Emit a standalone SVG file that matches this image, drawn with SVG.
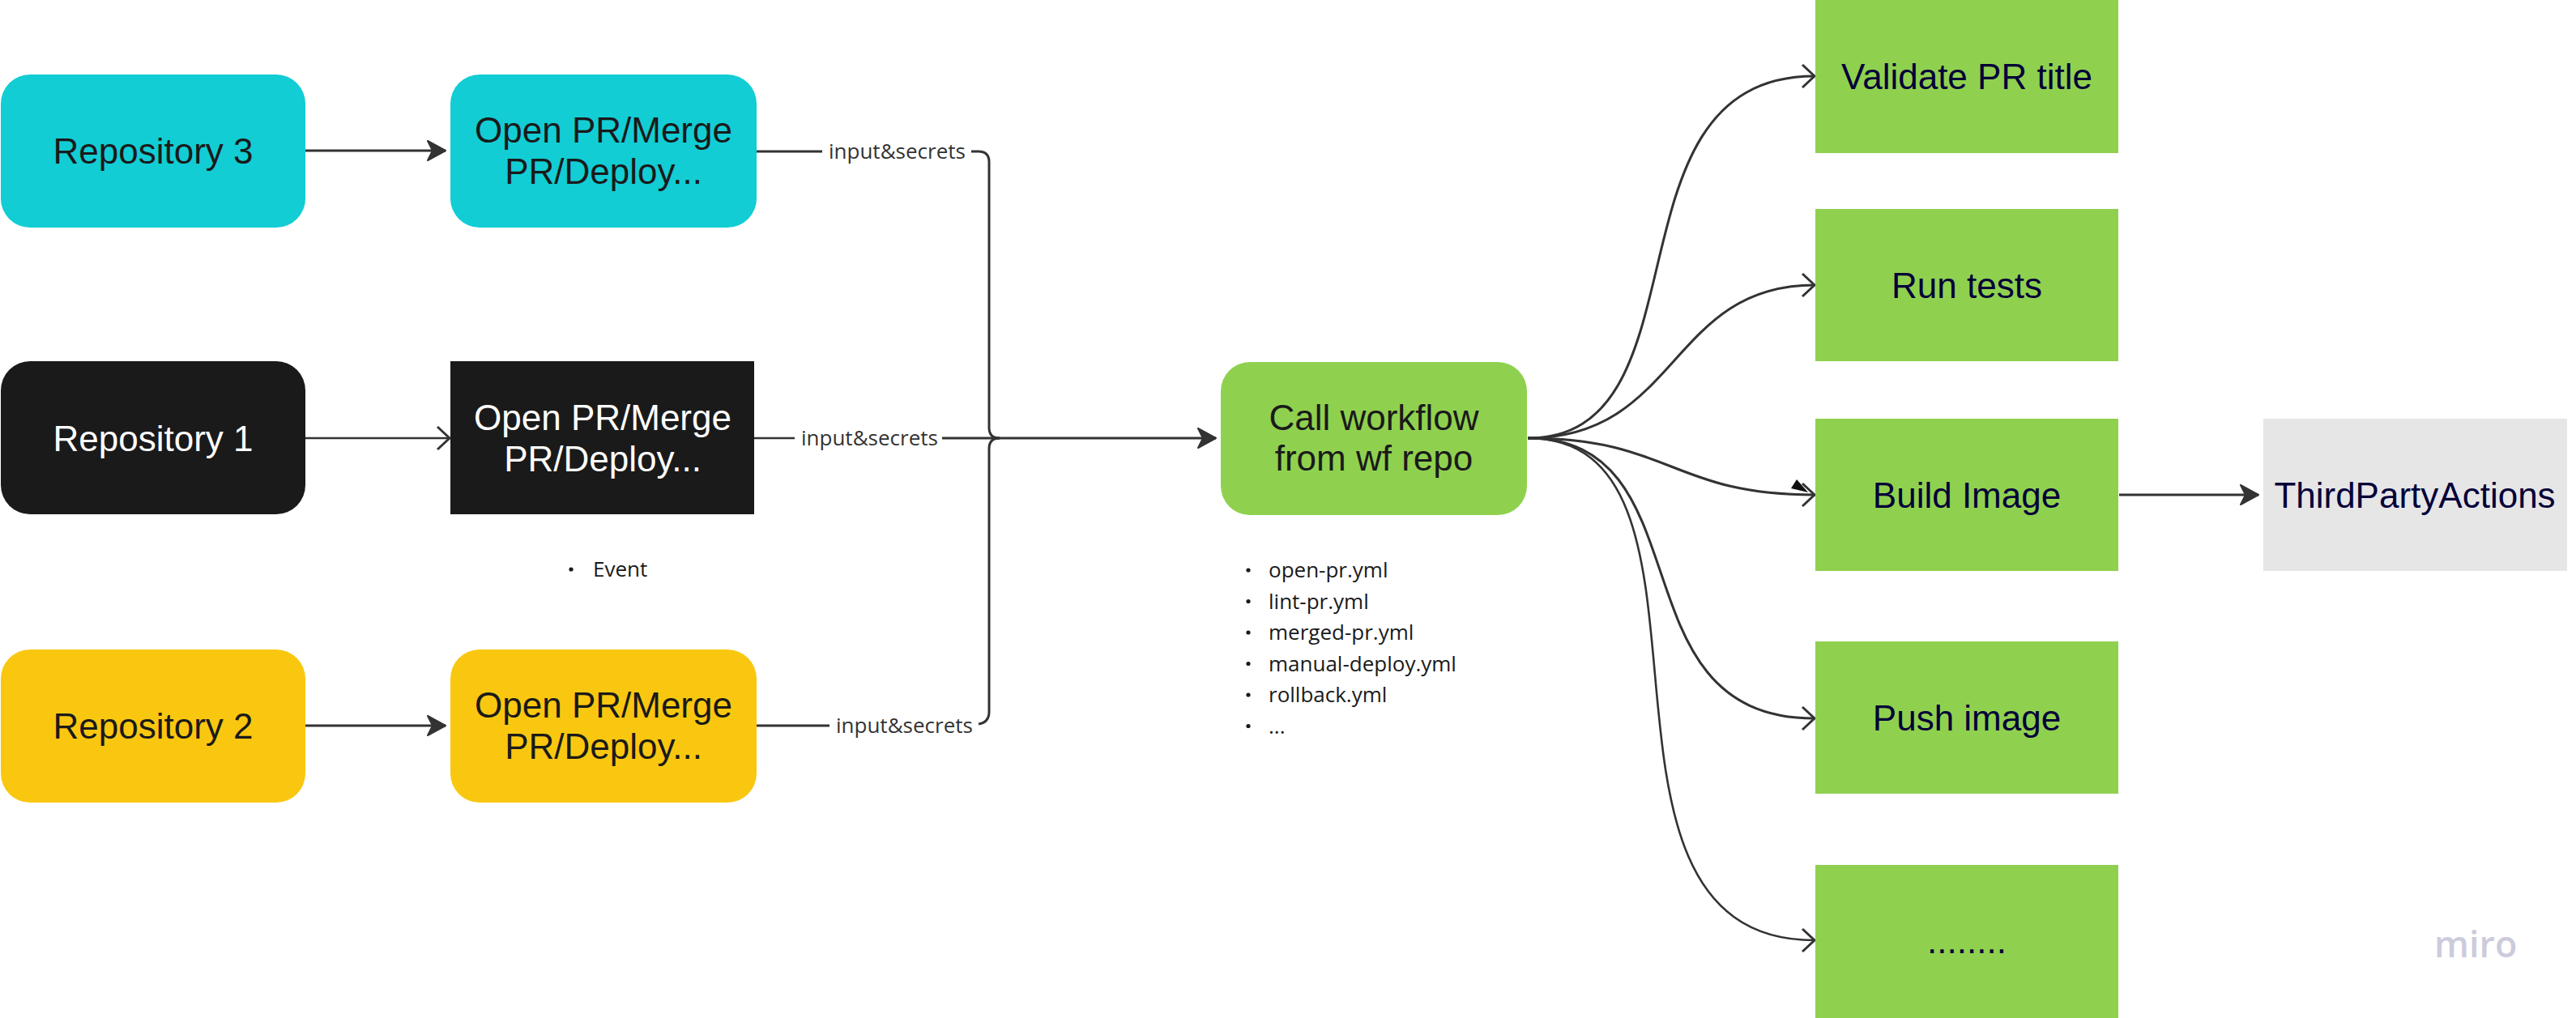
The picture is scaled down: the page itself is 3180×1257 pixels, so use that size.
<svg xmlns="http://www.w3.org/2000/svg" width="3180" height="1257" viewBox="0 0 3180 1257">
<style>
.t{font-family:"Liberation Sans",Arial,sans-serif;font-size:44px;text-anchor:middle}
.dk{fill:#1a1a1a}
.wh{fill:#ffffff}
.nv{fill:#050038}
.lbl{font-family:"Open Sans","DejaVu Sans",sans-serif;font-size:26px;fill:#333333}
.li{font-family:"Open Sans","DejaVu Sans",sans-serif;font-size:26px;fill:#1a1a1a}
.c{fill:none;stroke:#333333;stroke-linecap:butt}
.cyan{fill:#12cdd4}
.blk{fill:#1a1a1a}
.yel{fill:#fac710}
.grn{fill:#8fd14f}
.gry{fill:#e6e6e6}
</style>
<defs>
<marker id="af" viewBox="0 0 26 28" refX="24" refY="14" markerWidth="26" markerHeight="28" orient="auto" markerUnits="userSpaceOnUse">
<path d="M2,2 L24,14 L2,26 L8,14 Z" fill="#333333" stroke="#333333" stroke-width="2" stroke-linejoin="round"/>
</marker>
<marker id="ao" viewBox="0 0 20 32" refX="17" refY="16" markerWidth="20" markerHeight="32" orient="auto" markerUnits="userSpaceOnUse">
<path d="M2,2 L17,16 L2,30" fill="none" stroke="#333333" stroke-width="3"/>
</marker>
</defs>
<rect width="3180" height="1257" fill="#ffffff"/>

<g id="connectors">
<path class="c" stroke-width="3.2" d="M377,186 L550,186" marker-end="url(#af)"/>
<path class="c" stroke-width="2.5" d="M377,541 L555,541" marker-end="url(#ao)"/>
<path class="c" stroke-width="3.2" d="M377,896 L550,896" marker-end="url(#af)"/>
<path class="c" stroke-width="3.2" d="M934,187 L1015,187"/>
<path class="c" stroke-width="3" d="M1199,187 L1208,187 Q1221,187 1221,200 L1221,528 Q1221,541 1234,541"/>
<path class="c" stroke-width="2.6" d="M931,541 L981,541"/>
<path class="c" stroke-width="3" d="M1163,541 L1501,541" marker-end="url(#af)"/>
<path class="c" stroke-width="3.2" d="M934,896 L1024,896"/>
<path class="c" stroke-width="3" d="M1208,894 Q1221,892 1221,879 L1221,554 Q1221,541 1234,541"/>
<path class="c" stroke-width="3" d="M1886,541 C2114,541 1973,94 2240,94" marker-end="url(#ao)"/>
<path class="c" stroke-width="3" d="M1886,541 C2073,541 2060,352 2240,352" marker-end="url(#ao)"/>
<path class="c" stroke-width="3.2" d="M1886,541 C2063,541 2063,611 2240,611" marker-end="url(#ao)"/>
<polygon points="2218,592 2211,603 2232,608" fill="#111111"/>
<path class="c" stroke-width="3" d="M1886,541 C2109,541 1989,887 2240,887" marker-end="url(#ao)"/>
<path class="c" stroke-width="2.6" d="M1886,541 C2159,541 1918,1161 2240,1161" marker-end="url(#ao)"/>
<path class="c" stroke-width="3.2" d="M2616,611 L2788,611" marker-end="url(#af)"/>
<text class="lbl" x="1023" y="196">input&amp;secrets</text>
<text class="lbl" x="989" y="550">input&amp;secrets</text>
<text class="lbl" x="1032" y="905">input&amp;secrets</text>
</g>

<g id="repo3">
<rect class="cyan" x="1" y="92" width="376" height="189" rx="36"/>
<text class="t dk" x="189" y="202">Repository 3</text>
</g>
<g id="pr3">
<rect class="cyan" x="556" y="92" width="378" height="189" rx="36"/>
<text class="t dk" x="745" y="176">Open PR/Merge</text>
<text class="t dk" x="745" y="227">PR/Deploy...</text>
</g>
<g id="repo1">
<rect class="blk" x="1" y="446" width="376" height="189" rx="36"/>
<text class="t wh" x="189" y="557">Repository 1</text>
</g>
<g id="pr1">
<rect class="blk" x="556" y="446" width="375" height="189"/>
<text class="t wh" x="744" y="531">Open PR/Merge</text>
<text class="t wh" x="744" y="582">PR/Deploy...</text>
</g>
<g id="repo2">
<rect class="yel" x="1" y="802" width="376" height="189" rx="36"/>
<text class="t dk" x="189" y="912">Repository 2</text>
</g>
<g id="pr2">
<rect class="yel" x="556" y="802" width="378" height="189" rx="36"/>
<text class="t dk" x="745" y="886">Open PR/Merge</text>
<text class="t dk" x="745" y="937">PR/Deploy...</text>
</g>
<g id="event-note">
<circle cx="705" cy="703" r="2.6" fill="#1a1a1a"/>
<text class="li" x="732" y="712">Event</text>
</g>
<g id="call">
<rect class="grn" x="1507" y="447" width="378" height="189" rx="36"/>
<text class="t dk" x="1696" y="531">Call workflow</text>
<text class="t dk" x="1696" y="581">from wf repo</text>
</g>
<g id="workflow-list">
<circle cx="1541" cy="704" r="2.6" fill="#1a1a1a"/>
<text class="li" x="1566" y="713">open-pr.yml</text>
<circle cx="1541" cy="742.5" r="2.6" fill="#1a1a1a"/>
<text class="li" x="1566" y="751.5">lint-pr.yml</text>
<circle cx="1541" cy="781" r="2.6" fill="#1a1a1a"/>
<text class="li" x="1566" y="790">merged-pr.yml</text>
<circle cx="1541" cy="819.5" r="2.6" fill="#1a1a1a"/>
<text class="li" x="1566" y="828.5">manual-deploy.yml</text>
<circle cx="1541" cy="858" r="2.6" fill="#1a1a1a"/>
<text class="li" x="1566" y="867">rollback.yml</text>
<circle cx="1541" cy="896.5" r="2.6" fill="#1a1a1a"/>
<text class="li" x="1566" y="905.5">...</text>
</g>
<g id="validate">
<rect class="grn" x="2241" y="0" width="374" height="189"/>
<text class="t nv" x="2428" y="110">Validate PR title</text>
</g>
<g id="runtests">
<rect class="grn" x="2241" y="258" width="374" height="188"/>
<text class="t nv" x="2428" y="368">Run tests</text>
</g>
<g id="build">
<rect class="grn" x="2241" y="517" width="374" height="188"/>
<text class="t nv" x="2428" y="627">Build Image</text>
</g>
<g id="thirdparty">
<rect class="gry" x="2794" y="517" width="375" height="188"/>
<text class="t nv" x="2981" y="627">ThirdPartyActions</text>
</g>
<g id="push">
<rect class="grn" x="2241" y="792" width="374" height="188"/>
<text class="t nv" x="2428" y="902">Push image</text>
</g>
<g id="more">
<rect class="grn" x="2241" y="1068" width="374" height="189"/>
<text class="t nv" x="2428" y="1177">........</text>
</g>
<text x="3005" y="1182" font-family="'Open Sans','DejaVu Sans',sans-serif" font-size="45" font-weight="600" fill="#cbcbdb">miro</text>
</svg>
